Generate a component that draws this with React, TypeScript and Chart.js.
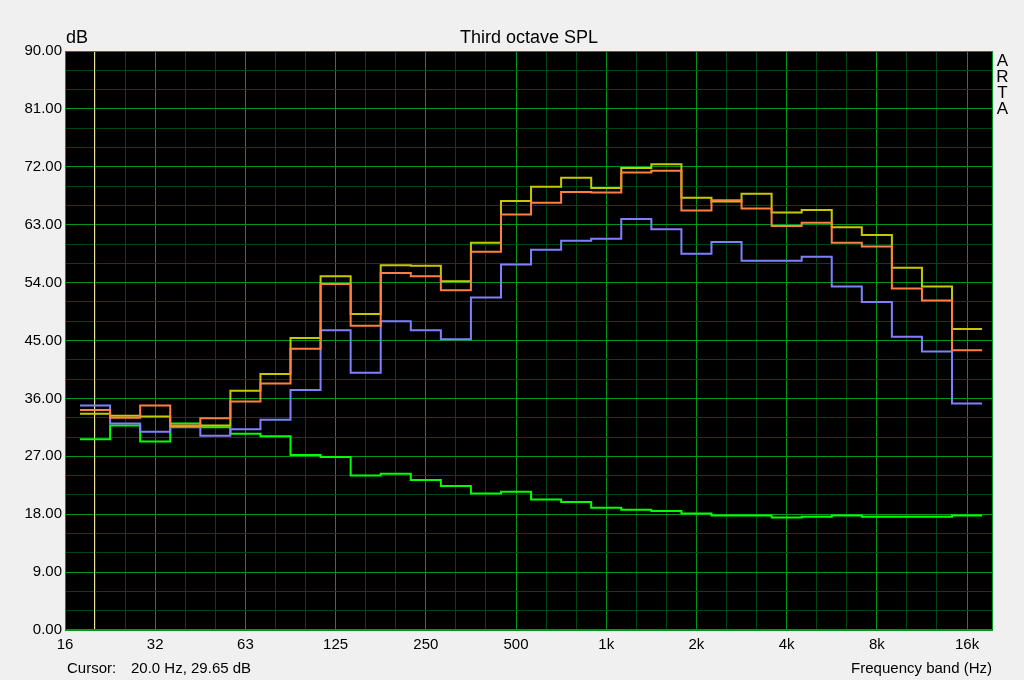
import React, { useEffect, useRef } from "react";
import { Chart, registerables } from "chart.js";

Chart.register(...registerables);

// Third-octave band centres (categories)
const BANDS = ["20", "25", "31.5", "40", "50", "63", "80", "100", "125", "160", "200", "250", "315", "400", "500", "630", "800", "1k", "1.25k", "1.6k", "2k", "2.5k", "3.15k", "4k", "5k", "6.3k", "8k", "10k", "12.5k", "16k"];
// Octave tick labels on the frequency axis
const OCTAVE_LABELS = ["16", "32", "63", "125", "250", "500", "1k", "2k", "4k", "8k", "16k"];

// Series values (dB) per band
const YELLOW = [33.6, 33.3, 33.2, 31.7, 31.8, 37.2, 39.8, 45.4, 55.0, 49.1, 56.7, 56.6, 54.2, 60.2, 66.7, 68.9, 70.3, 68.7, 71.8, 72.4, 67.2, 66.6, 67.8, 64.9, 65.3, 62.6, 61.4, 56.3, 53.4, 46.8];
const ORANGE = [34.2, 33.0, 34.9, 31.8, 32.9, 35.5, 38.3, 43.7, 53.8, 47.3, 55.5, 55.0, 52.8, 58.8, 64.6, 66.4, 68.1, 68.0, 71.1, 71.4, 65.2, 66.8, 65.5, 62.8, 63.3, 60.2, 59.6, 53.1, 51.2, 43.5];
const BLUE = [34.9, 32.1, 30.8, 31.5, 30.2, 31.2, 32.7, 37.3, 46.6, 40.0, 48.0, 46.6, 45.2, 51.7, 56.8, 59.1, 60.5, 60.8, 63.9, 62.3, 58.5, 60.3, 57.4, 57.4, 58.0, 53.4, 51.0, 45.6, 43.3, 35.2];
const GREEN = [29.65, 31.8, 29.3, 32.1, 31.5, 30.5, 30.1, 27.2, 26.9, 24.0, 24.3, 23.3, 22.4, 21.2, 21.5, 20.3, 19.9, 19.0, 18.7, 18.5, 18.1, 17.8, 17.8, 17.5, 17.6, 17.8, 17.6, 17.6, 17.6, 17.8];

const F_MIN = 16;
const F_MAX = 20000;
const Y_MIN = 0;
const Y_MAX = 90;
const CURSOR_HZ = 20;

const FONT = "'Liberation Sans', Arial, sans-serif";
const MAJOR = "rgb(0,150,30)";
const MINOR = "rgb(0,70,18)";

const bandCentre = (i: number) => F_MIN * Math.pow(2, (i + 1) / 3);

function steps(values: number[]) {
  const pts: { x: number; y: number }[] = [];
  values.forEach((v, i) => {
    const c = bandCentre(i);
    pts.push({ x: c * Math.pow(2, -1 / 6), y: v });
    pts.push({ x: c * Math.pow(2, 1 / 6), y: v });
  });
  return pts;
}

const frameworkPlugin = {
  id: "artaFrame",
  beforeDraw(chart: any) {
    const { ctx, chartArea: a, width, height } = chart;
    ctx.save();
    ctx.fillStyle = "#f0f0f0";
    ctx.fillRect(0, 0, width, height);
    ctx.fillStyle = "#000";
    ctx.fillRect(a.left, a.top, a.right - a.left, a.bottom - a.top);
    ctx.restore();
  },
  beforeDatasetsDraw(chart: any) {
    const { ctx, chartArea: a } = chart;
    const x = Math.round(chart.scales.x.getPixelForValue(CURSOR_HZ)) + 0.5;
    ctx.save();
    ctx.strokeStyle = "#e6e6a0";
    ctx.lineWidth = 1;
    ctx.beginPath();
    ctx.moveTo(x, a.top);
    ctx.lineTo(x, a.bottom);
    ctx.stroke();
    ctx.restore();
  },
  afterDraw(chart: any) {
    const { ctx, chartArea: a } = chart;
    ctx.save();
    ctx.strokeStyle = MAJOR;
    ctx.lineWidth = 1;
    ctx.strokeRect(a.left + 0.5, a.top + 0.5, a.right - a.left - 1, a.bottom - a.top - 1);
    ctx.fillStyle = "#000";
    ctx.textBaseline = "alphabetic";
    ctx.font = `18px ${FONT}`;
    ctx.textAlign = "center";
    ctx.fillText("Third octave SPL", (a.left + a.right) / 2, 43);
    ctx.textAlign = "left";
    ctx.fillText("dB", 66, 43);
    ctx.font = `17px ${FONT}`;
    ctx.textAlign = "center";
    ["A", "R", "T", "A"].forEach((ch, i) => ctx.fillText(ch, 1002.5, 66 + i * 16));
    ctx.font = `15px ${FONT}`;
    ctx.textAlign = "left";
    ctx.fillText("Cursor:", 67, 673);
    ctx.fillText("20.0 Hz, 29.65 dB", 131, 673);
    ctx.textAlign = "right";
    ctx.fillText("Frequency band (Hz)", 992, 673);
    ctx.restore();
  },
};

function line(label: string, values: number[], color: string) {
  return {
    label,
    data: steps(values),
    borderColor: color,
    backgroundColor: color,
    borderWidth: 2,
    pointRadius: 0,
    fill: false,
    tension: 0,
  };
}

export default function App() {
  const ref = useRef<HTMLCanvasElement | null>(null);

  useEffect(() => {
    if (!ref.current) return;
    const chart = new Chart(ref.current, {
      type: "line",
      data: {
        datasets: [
          line("orange", ORANGE, "#ff8040"),
          line("yellow", YELLOW, "#c8c800"),
          line("blue", BLUE, "#8080ff"),
          line("green", GREEN, "#00ff00"),
        ],
      },
      options: {
        responsive: false,
        animation: false,
        devicePixelRatio: 1,
        layout: { padding: { left: 0, top: 51, right: 31, bottom: 0 } },
        plugins: { legend: { display: false }, tooltip: { enabled: false }, title: { display: false } },
        scales: {
          x: {
            type: "logarithmic",
            min: F_MIN,
            max: F_MAX,
            afterBuildTicks(scale: any) {
              const t = [];
              for (let k = 0; k <= 30; k++) t.push({ value: F_MIN * Math.pow(2, k / 3) });
              scale.ticks = t;
            },
            afterFit(scale: any) {
              scale.height = 50;
              scale.paddingLeft = 0;
              scale.paddingRight = 0;
            },
            ticks: {
              autoSkip: false,
              maxRotation: 0,
              minRotation: 0,
              padding: 6,
              color: "#000",
              font: { family: FONT, size: 15 },
              callback(value: any) {
                const k = Math.round(3 * Math.log2(Number(value) / F_MIN));
                return k % 3 === 0 ? OCTAVE_LABELS[k / 3] ?? "" : "";
              },
            },
            grid: {
              drawTicks: false,
              lineWidth: 1,
              color(c: any) {
                const k = Math.round(3 * Math.log2(c.tick.value / F_MIN));
                return k % 3 === 0 ? MAJOR : MINOR;
              },
            },
            border: { display: false },
          },
          y: {
            type: "linear",
            min: Y_MIN,
            max: Y_MAX,
            afterFit(scale: any) {
              scale.width = 65;
              scale.paddingTop = 0;
              scale.paddingBottom = 0;
            },
            ticks: {
              stepSize: 3,
              autoSkip: false,
              padding: 3,
              color: "#000",
              font: { family: FONT, size: 15 },
              callback(value: any) {
                const v = Number(value);
                return Math.abs(v % 9) < 1e-6 ? v.toFixed(2) : "";
              },
            },
            grid: {
              drawTicks: false,
              lineWidth: 1,
              color(c: any) {
                return Math.abs(c.tick.value % 9) < 1e-6 ? MAJOR : MINOR;
              },
            },
            border: { display: false },
          },
        },
      },
      plugins: [frameworkPlugin],
    } as any);
    return () => chart.destroy();
  }, []);

  return (
    <div style={{ position: "fixed", left: 0, top: 0, width: 1024, height: 680 }}>
      <canvas ref={ref} width={1024} height={680} style={{ width: 1024, height: 680, display: "block" }} />
    </div>
  );
}
